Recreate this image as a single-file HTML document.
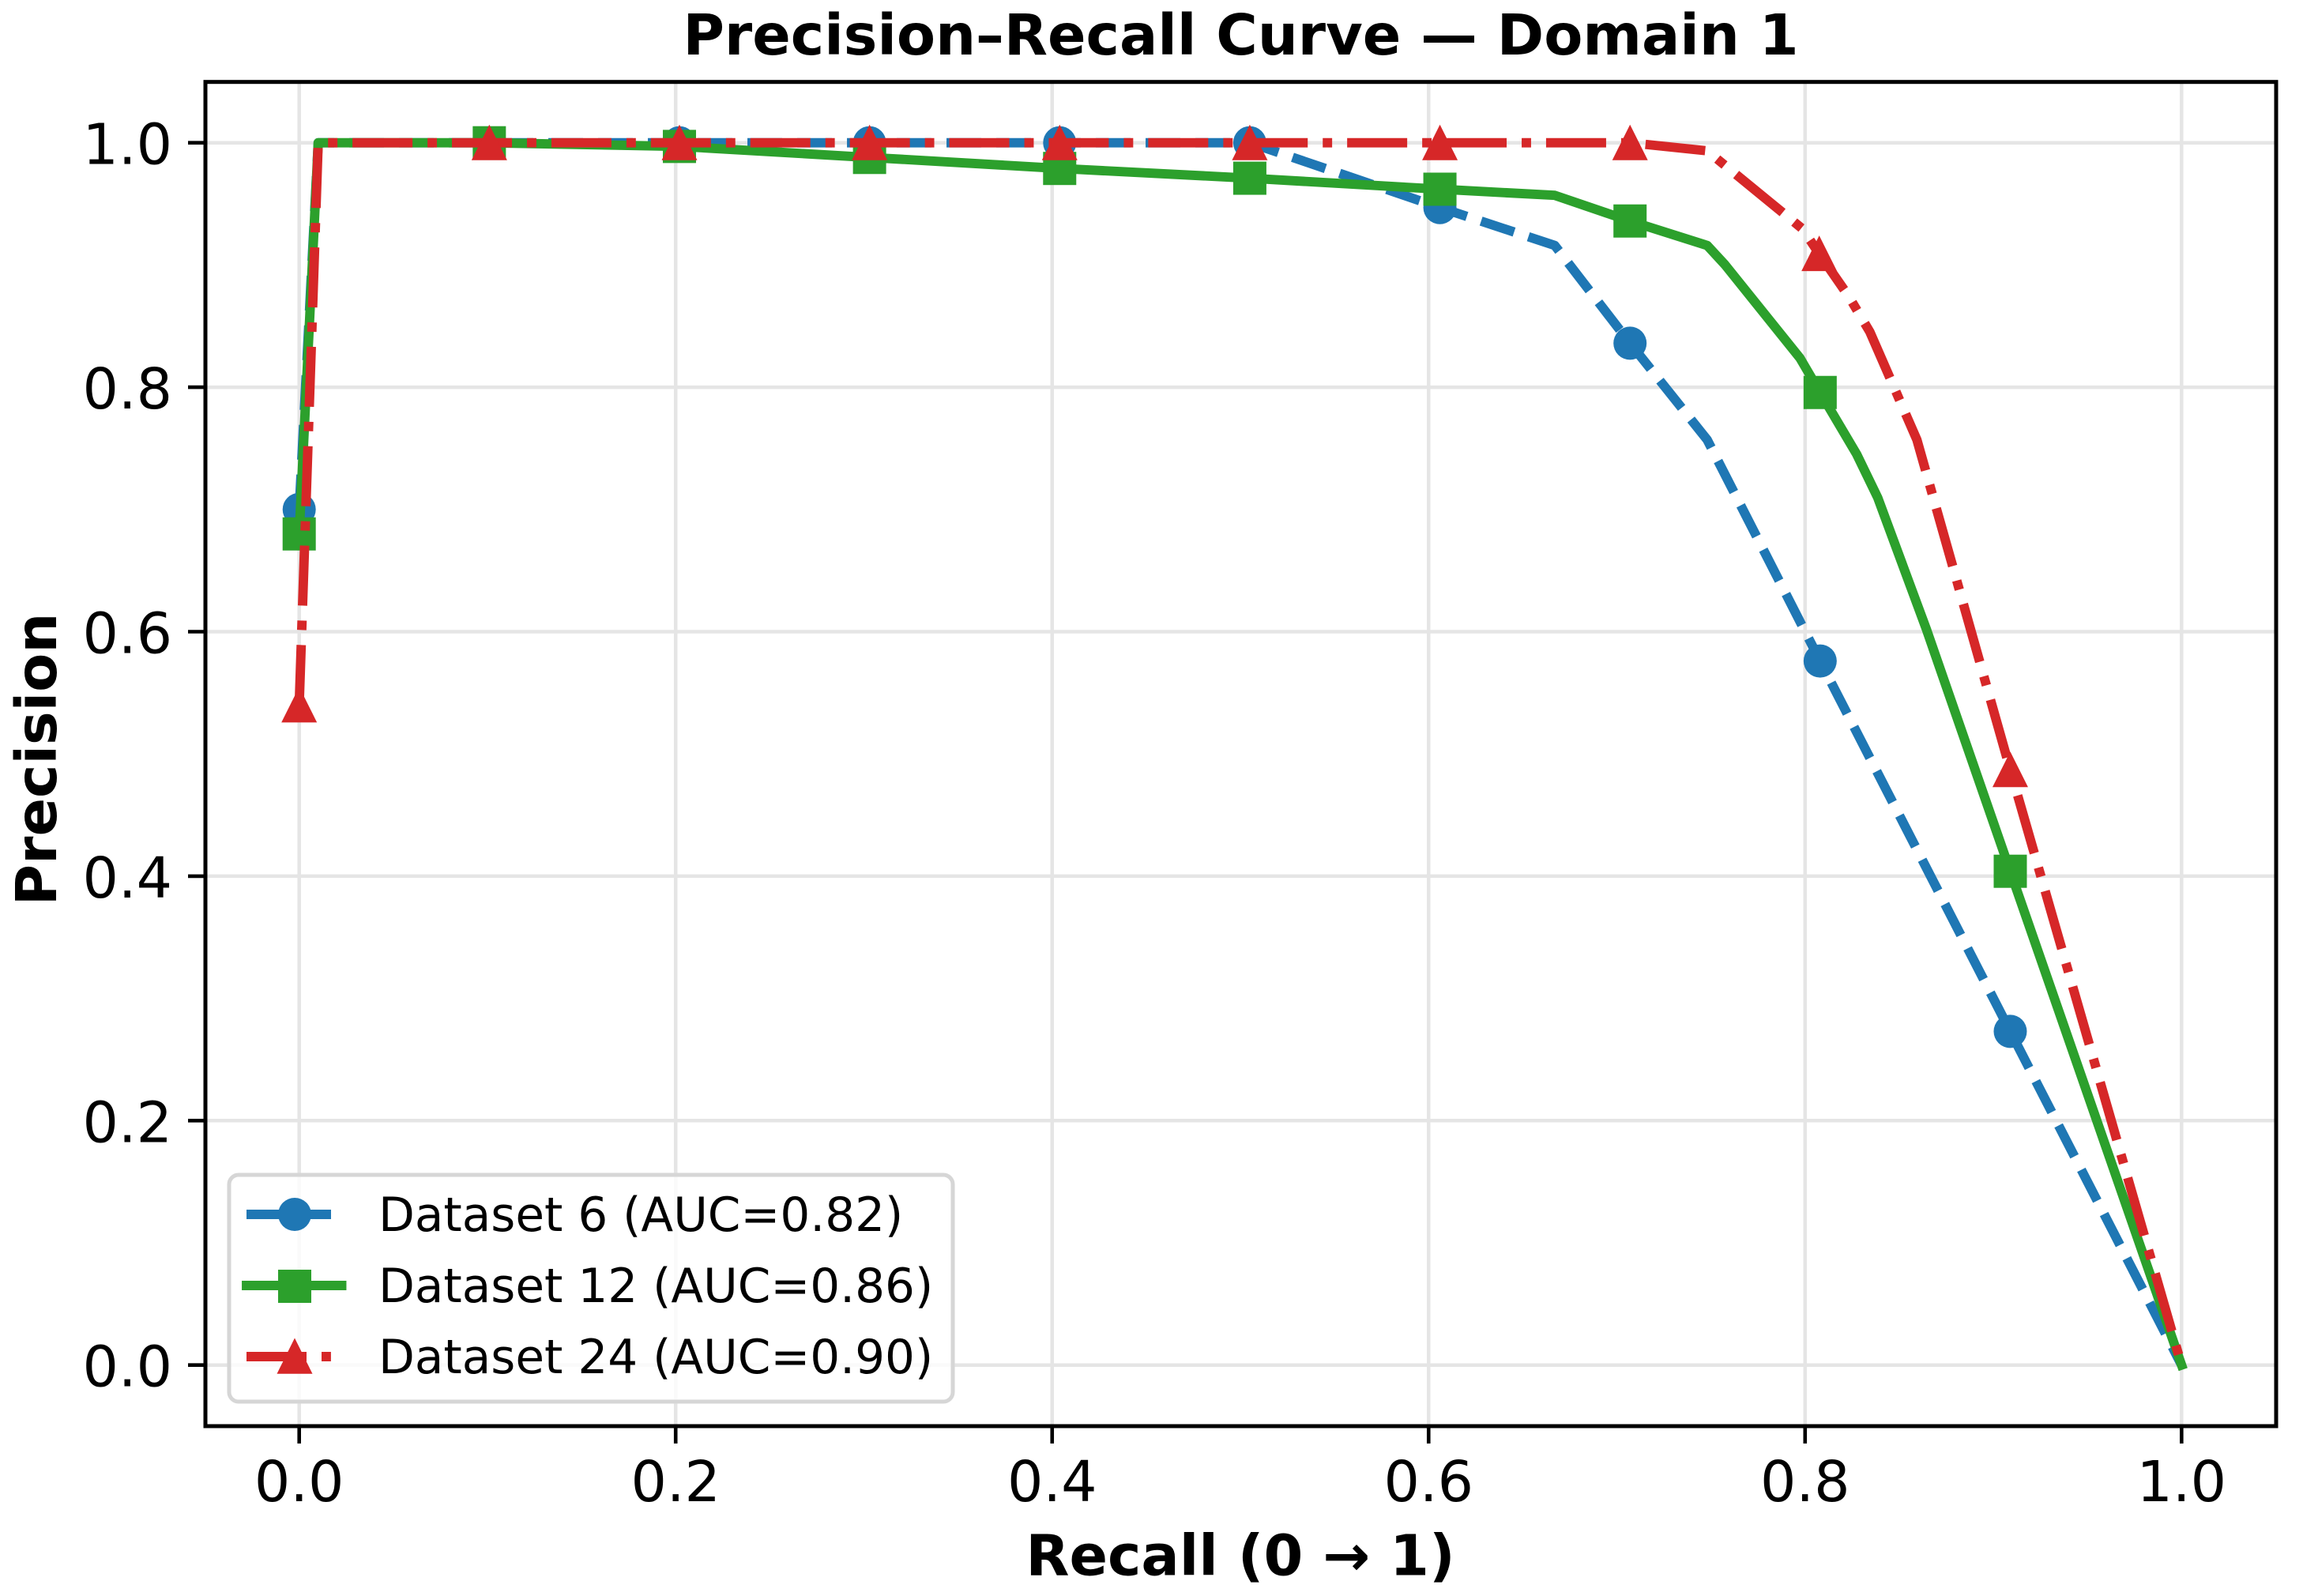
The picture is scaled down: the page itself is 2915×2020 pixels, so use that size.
<!DOCTYPE html>
<html lang="en">
<head>
<meta charset="utf-8">
<title>Precision–Recall Curve — Domain 1</title>
<style>
html,body{margin:0;padding:0;background:#fff;}
svg{display:block;}
text{font-family:"DejaVu Sans","Liberation Sans",sans-serif;fill:#000;}
</style>
</head>
<body>
<svg id="chart" xmlns="http://www.w3.org/2000/svg" width="2915" height="2020" viewBox="0 0 2915 2020">
  <rect x="0" y="0" width="2915" height="2020" fill="#fff"/>
  <g id="grid"></g>
  <g id="series"></g>
  <g id="axes"></g>
  <text x="1570.5" y="69" font-size="71.6" font-weight="700" text-anchor="middle">Precision–Recall Curve — Domain 1</text>
  <text x="1570" y="1993.5" font-size="71.6" font-weight="700" text-anchor="middle">Recall (0 → 1)</text>
  <text transform="translate(71,961) rotate(-90)" font-size="71.6" font-weight="700" text-anchor="middle">Precision</text>
  <g id="legend">
    <rect x="290" y="1487" width="916" height="287" rx="12" ry="12" fill="#fff" fill-opacity="0.8" stroke="#d6d6d6" stroke-width="5"/>
    <g>
      <line x1="312" y1="1537" x2="420" y2="1537" stroke="#1f77b4" stroke-width="11.9" stroke-dasharray="44 19"/>
      <circle cx="373" cy="1537" r="21" fill="#1f77b4"/>
      <text x="479" y="1558" font-size="59.6">Dataset 6 (AUC=0.82)</text>
    </g>
    <g>
      <line x1="312" y1="1627" x2="432.5" y2="1627" stroke="#2ca02c" stroke-width="11.9" stroke-linecap="square"/>
      <rect x="352" y="1607" width="42" height="42" fill="#2ca02c"/>
      <text x="479" y="1648" font-size="59.6">Dataset 12 (AUC=0.86)</text>
    </g>
    <g>
      <line x1="312" y1="1717" x2="420" y2="1717" stroke="#d62728" stroke-width="11.9" stroke-dasharray="76 19 11.9 19"/>
      <polygon points="373,1693.5 395.5,1738.7 350.5,1738.7" fill="#d62728"/>
      <text x="479" y="1738" font-size="59.6">Dataset 24 (AUC=0.90)</text>
    </g>
  </g>
</svg>
<script>
// Tick labels
const xTickLabels = ["0.0", "0.2", "0.4", "0.6", "0.8", "1.0"];
const yTickLabels = ["0.0", "0.2", "0.4", "0.6", "0.8", "1.0"];

// Dataset 6
const recall6 = [0, 0.0101, 0.101, 0.202, 0.303, 0.404, 0.505, 0.606, 0.667, 0.707, 0.748, 0.808, 0.909, 1];
const precision6 = [0.70, 1, 1, 1, 1, 1, 1, 0.947, 0.916, 0.836, 0.757, 0.576, 0.273, 0];
const markers6 = [0, 2, 3, 4, 5, 6, 7, 9, 11, 12];

// Dataset 12
const recall12 = [0, 0.0101, 0.101, 0.202, 0.303, 0.404, 0.505, 0.606, 0.667, 0.707, 0.748, 0.7574, 0.7973, 0.808, 0.8274, 0.8386, 0.8645, 0.909, 1];
const precision12 = [0.68, 1, 1, 0.997, 0.988, 0.979, 0.971, 0.962, 0.957, 0.936, 0.916, 0.9003, 0.8238, 0.7957, 0.7452, 0.7096, 0.6017, 0.404, 0];
const markers12 = [0, 2, 3, 4, 5, 6, 7, 9, 13, 17];

// Dataset 24
const recall24 = [0, 0.0101, 0.101, 0.202, 0.303, 0.404, 0.505, 0.606, 0.707, 0.748, 0.7986, 0.8075, 0.8232, 0.8344, 0.8594, 0.909, 1];
const precision24 = [0.54, 1, 1, 1, 1, 1, 1, 1, 1, 0.9934, 0.9296, 0.9092, 0.8743, 0.8453, 0.757, 0.487, 0];
const markers24 = [0, 2, 3, 4, 5, 6, 7, 8, 11, 15];

const SVGNS = "http://www.w3.org/2000/svg";
const plot = { left: 260, right: 2881, top: 103.7, bottom: 1805 };
const sx = function (v) { return 378.7 + v * 2382.6; };
const sy = function (v) { return 1727.7 - v * 1547; };

function make(tag, attrs, parent) {
  const el = document.createElementNS(SVGNS, tag);
  Object.keys(attrs).forEach(function (k) { el.setAttribute(k, attrs[k]); });
  parent.appendChild(el);
  return el;
}

const gridGroup = document.getElementById("grid");
const axesGroup = document.getElementById("axes");
const seriesGroup = document.getElementById("series");

xTickLabels.forEach(function (label) {
  const x = sx(Number(label));
  const g = make("line", { x1: x, x2: x, y1: plot.top, y2: plot.bottom, stroke: "#e5e5e5", "stroke-width": 4.5 }, gridGroup);
  
  
  const t = make("line", { x1: x, x2: x, y1: plot.bottom, y2: plot.bottom + 22, stroke: "#000", "stroke-width": 4.6 }, axesGroup);
  
  
  const txt = make("text", { x: x, y: 1900, "font-size": 71.4, "text-anchor": "middle" }, axesGroup);
  
  
  txt.textContent = label;
});

yTickLabels.forEach(function (label) {
  const y = sy(Number(label));
  const g = make("line", { x1: plot.left, x2: plot.right, y1: y, y2: y, stroke: "#e5e5e5", "stroke-width": 4.5 }, gridGroup);
  
  
  const t = make("line", { x1: plot.left - 22, x2: plot.left, y1: y, y2: y, stroke: "#000", "stroke-width": 4.6 }, axesGroup);
  
  
  const txt = make("text", { x: 218, y: y + 27, "font-size": 71.4, "text-anchor": "end" }, axesGroup);
  
  
  txt.textContent = label;
});

const frame = make("rect", { x: plot.left, y: plot.top, width: plot.right - plot.left, height: plot.bottom - plot.top, fill: "none", stroke: "#000", "stroke-width": 5 }, axesGroup);



function drawLine(recall, precision, color, dash, cap, parent) {
  const pts = recall.map(function (r, i) { return sx(r).toFixed(2) + "," + sy(precision[i]).toFixed(2); }).join(" ");
  const attrs = { points: pts, fill: "none", stroke: color, "stroke-width": 11.9, "stroke-linejoin": "round", "stroke-linecap": cap };
  if (dash) { attrs["stroke-dasharray"] = dash; }
  return make("polyline", attrs, parent);
}

function drawCircle(x, y, color, parent) {
  return make("circle", { cx: x, cy: y, r: 21, fill: color }, parent);
}
function drawSquare(x, y, color, parent) {
  return make("rect", { x: x - 21, y: y - 21, width: 42, height: 42, fill: color }, parent);
}
function drawTriangle(x, y, color, parent) {
  const p = x + "," + (y - 23) + " " + (x + 22.5) + "," + (y + 22) + " " + (x - 22.5) + "," + (y + 22);
  return make("polygon", { points: p, fill: color }, parent);
}

// Dataset 6
const group6 = make("g", {}, seriesGroup);


const line6 = drawLine(recall6, precision6, "#1f77b4", "44 19", "butt", group6);


markers6.forEach(function (i) {
  const m = drawCircle(sx(recall6[i]), sy(precision6[i]), "#1f77b4", group6);
  
  
});

// Dataset 12
const group12 = make("g", {}, seriesGroup);


const line12 = drawLine(recall12, precision12, "#2ca02c", null, "square", group12);


markers12.forEach(function (i) {
  const m = drawSquare(sx(recall12[i]), sy(precision12[i]), "#2ca02c", group12);
  
  
});

// Dataset 24
const group24 = make("g", {}, seriesGroup);


const line24 = drawLine(recall24, precision24, "#d62728", "76 19 11.9 19", "butt", group24);


markers24.forEach(function (i) {
  const m = drawTriangle(sx(recall24[i]), sy(precision24[i]), "#d62728", group24);
  
  
});
</script>
</body>
</html>
